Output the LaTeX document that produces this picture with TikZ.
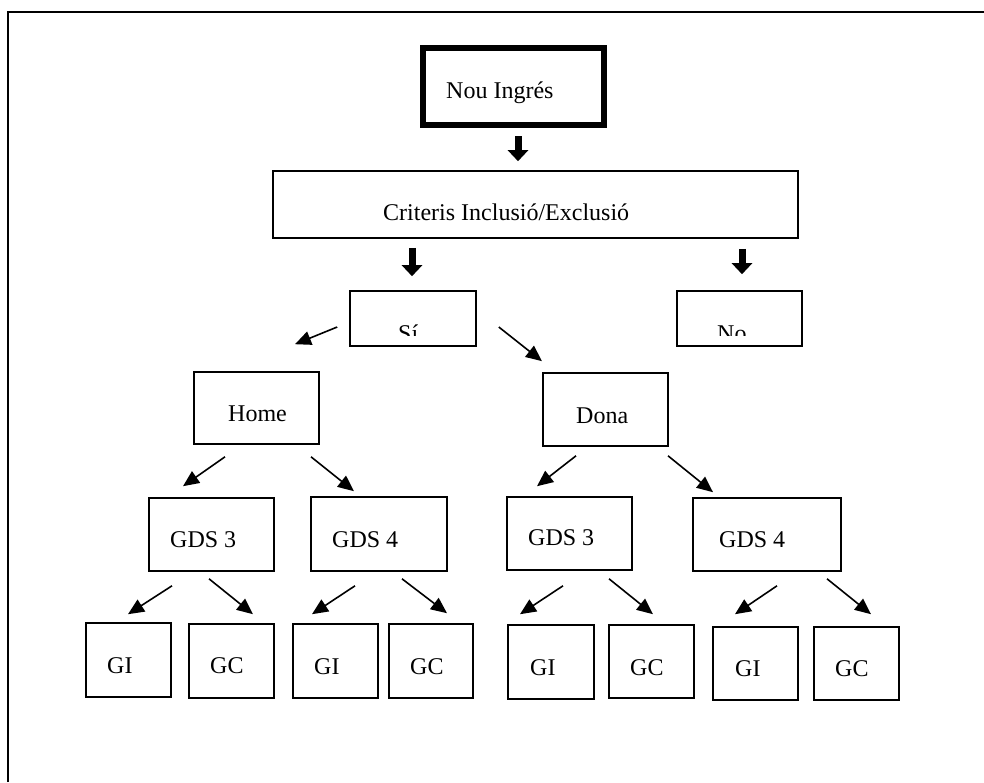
\documentclass[tikz,border=0pt]{standalone}
\usepackage{fontspec}
\setmainfont{Liberation Serif}
\usetikzlibrary{arrows.meta}

\begin{document}
\begin{tikzpicture}[
    x = 1pt, y = -1pt,
    box/.style = {draw, line width = 1.6pt, inner sep = 0pt},
    txt/.style = {anchor = base west, inner sep = 0pt,
        font = \fontsize{24}{28}\selectfont},
    arr/.style = {line width = 1.6pt, -{Triangle[length = 16pt, width = 14pt]}},
    blockarr/.style = {line width = 7pt, -{Triangle[length = 11pt, width = 20pt]}}
]
\useasboundingbox (0,0) rectangle (984,782);

% frame
\draw[line width = 1.6pt] (8,782) -- (8,12) -- (984,12);

% top boxes
\node[box, line width = 6pt, minimum width = 181pt, minimum height = 77pt] (nou) at (513.5,86.5) {};
\node[txt] (tNou) at (446,98) {Nou Ingrés};
\node[box, minimum width = 525pt, minimum height = 67pt] (crit) at (535.5,204.5) {};
\node[txt] (tCrit) at (383,220) {Criteris Inclusió/Exclusió};

\node[box, minimum width = 126pt, minimum height = 55pt] (si) at (413,318.5) {};
\node[box, minimum width = 125pt, minimum height = 55pt] (no) at (739.5,318.5) {};
\begin{scope}
    \clip (340,280) rectangle (820,335);
    \node[txt] (tSi) at (398,341) {Sí};
    \node[txt] (tNo) at (717,341) {No};
\end{scope}

% sex
\node[box, minimum width = 125pt, minimum height = 72pt] (home) at (256.5,408) {};
\node[txt] (tHome) at (228,421) {Home};
\node[box, minimum width = 125pt, minimum height = 73pt] (dona) at (605.5,409.5) {};
\node[txt] (tDona) at (576,423) {Dona};

% GDS
\node[box, minimum width = 125pt, minimum height = 73pt] (gdsA) at (211.5,534.5) {};
\node[txt] (tGdsA) at (170,547) {GDS 3};
\node[box, minimum width = 136pt, minimum height = 74pt] (gdsB) at (379,534) {};
\node[txt] (tGdsB) at (332,547) {GDS 4};
\node[box, minimum width = 125pt, minimum height = 73pt] (gdsC) at (569.5,533.5) {};
\node[txt] (tGdsC) at (528,545) {GDS 3};
\node[box, minimum width = 148pt, minimum height = 73pt] (gdsD) at (767,534.5) {};
\node[txt] (tGdsD) at (719,547) {GDS 4};

% groups
\node[box, minimum width = 85pt, minimum height = 74pt] (giA) at (128.5,660) {};
\node[txt] (tGiA) at (107,673) {GI};
\node[box, minimum width = 85pt, minimum height = 74pt] (gcA) at (231.5,661) {};
\node[txt] (tGcA) at (210,673) {GC};
\node[box, minimum width = 85pt, minimum height = 74pt] (giB) at (335.5,661) {};
\node[txt] (tGiB) at (314,674) {GI};
\node[box, minimum width = 84pt, minimum height = 74pt] (gcB) at (431,661) {};
\node[txt] (tGcB) at (410,674) {GC};
\node[box, minimum width = 86pt, minimum height = 74pt] (giC) at (551,662) {};
\node[txt] (tGiC) at (530,675) {GI};
\node[box, minimum width = 85pt, minimum height = 73pt] (gcC) at (651.5,661.5) {};
\node[txt] (tGcC) at (630,675) {GC};
\node[box, minimum width = 85pt, minimum height = 73pt] (giD) at (755.5,663.5) {};
\node[txt] (tGiD) at (735,676) {GI};
\node[box, minimum width = 85pt, minimum height = 73pt] (gcD) at (856.5,663.5) {};
\node[txt] (tGcD) at (835,676) {GC};

% block arrows
\draw[blockarr] ([shift={(4.5,8)}]nou.south) -- ([shift={(-17.5,-9)}]crit.north);
\draw[blockarr] ([shift={(-123.5,9)}]crit.south) -- ([shift={(-1,-14)}]si.north);
\draw[blockarr] ([shift={(206.5,10)}]crit.south) -- ([shift={(2.5,-16)}]no.north);

% branches
\draw[arr] ([shift={(-12,8.5)}]si.west) -- ([shift={(38.5,-27)}]home.north);
\draw[arr] ([shift={(22,8.5)}]si.east) -- ([shift={(-63.5,-11)}]dona.north);

\draw[arr] ([shift={(-31.5,12)}]home.south) -- ([shift={(-28.5,-11)}]gdsA.north);
\draw[arr] ([shift={(54.5,12)}]home.south) -- ([shift={(-25,-5)}]gdsB.north);
\draw[arr] ([shift={(-29.5,9)}]dona.south) -- ([shift={(-32.5,-10)}]gdsC.north);
\draw[arr] ([shift={(62.5,9)}]dona.south) -- ([shift={(-54,-5)}]gdsD.north);

\draw[arr] ([shift={(-39.5,14)}]gdsA.south) -- ([shift={(-0.5,-8)}]giA.north);
\draw[arr] ([shift={(-2.5,7)}]gdsA.south) -- ([shift={(21.5,-9)}]gcA.north);
\draw[arr] ([shift={(-24,14)}]gdsB.south) -- ([shift={(-23.5,-9)}]giB.north);
\draw[arr] ([shift={(23,7)}]gdsB.south) -- ([shift={(16,-10)}]gcB.north);
\draw[arr] ([shift={(-6.5,15)}]gdsC.south) -- ([shift={(-31,-10)}]giC.north);
\draw[arr] ([shift={(39.5,8)}]gdsC.south) -- ([shift={(1.5,-10)}]gcC.north);
\draw[arr] ([shift={(10,14)}]gdsD.south) -- ([shift={(-20.5,-12)}]giD.north);
\draw[arr] ([shift={(60,7)}]gdsD.south) -- ([shift={(14.5,-12)}]gcD.north);

\end{tikzpicture}
\end{document}
